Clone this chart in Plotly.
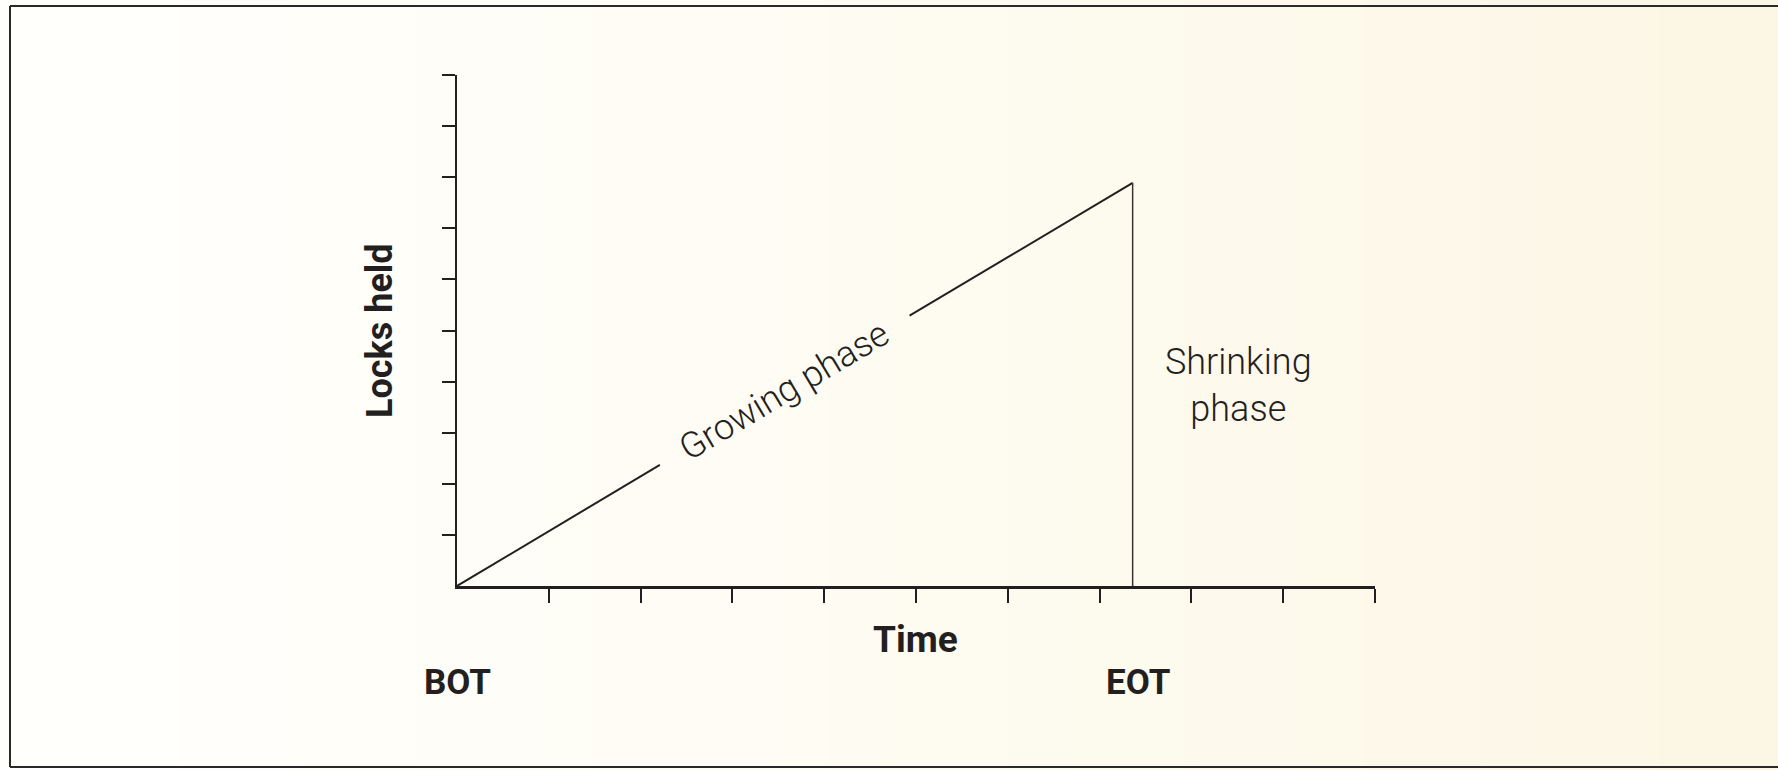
import plotly.graph_objects as go

# --- data ---
growing_x = [0.0, 2.21, None, 4.93, 7.36]
growing_y = [0.0, 2.37, None, 5.29, 7.89]
shrinking_x = [7.36, 7.36]
shrinking_y = [7.89, 0.0]
tick_vals = [1, 2, 3, 4, 5, 6, 7, 8, 9, 10]

W, H = 1778, 770
ML, MR, MT, MB = 457, 1778 - 1375, 75, 770 - 586

ink = "#231f20"
light_font = "Roboto, Liberation Sans, Arial, sans-serif"
bold_font = "Roboto, Liberation Sans, Arial, sans-serif"

fig = go.Figure()
fig.add_trace(go.Scatter(x=growing_x, y=growing_y, mode="lines",
                         line=dict(color=ink, width=2), hoverinfo="skip",
                         connectgaps=False, cliponaxis=False))
fig.add_trace(go.Scatter(x=shrinking_x, y=shrinking_y, mode="lines",
                         line=dict(color="#3a3230", width=1.5), hoverinfo="skip",
                         cliponaxis=False))

pw, ph = W - ML - MR, H - MT - MB
def px(x):
    return (x - ML) / pw
def py(y):
    return (H - MB - y) / ph

shapes = []
n = 30
c0 = (255, 255, 252)
c1 = (252, 246, 228)
for i in range(n):
    t = (i / (n - 1)) ** 1.2
    col = tuple(round(c0[k] + (c1[k] - c0[k]) * t) for k in range(3))
    shapes.append(dict(type="rect", xref="paper", yref="paper", layer="below",
                       x0=px(i * W / n), x1=px((i + 1.05) * W / n),
                       y0=py(H), y1=py(0),
                       line=dict(width=0), fillcolor="rgb(%d,%d,%d)" % col))
frame = dict(color="#2a2a2a", width=2)
shapes.append(dict(type="line", xref="paper", yref="paper", x0=px(10), x1=px(10),
                   y0=py(6), y1=py(767), line=frame))
shapes.append(dict(type="line", xref="paper", yref="paper", x0=px(10), x1=px(1778),
                   y0=py(6), y1=py(6), line=frame))
shapes.append(dict(type="line", xref="paper", yref="paper", x0=px(10), x1=px(1778),
                   y0=py(767), y1=py(767), line=frame))

light = dict(family=light_font, size=36, color=ink, weight=300)
f_time = dict(family=bold_font, size=37, color=ink, weight=700)
f_ends = dict(family=bold_font, size=35, color=ink, weight=700)
f_locks = dict(family=bold_font, size=36, color=ink, weight=700)
annotations = [
    dict(x=3.56, y=3.82, text="Growing phase", textangle=-30.8, showarrow=False,
         font=light, xanchor="center", yanchor="middle"),
    dict(x=8.51, y=3.93, text="Shrinking<br>phase", showarrow=False,
         font=light, align="center", xanchor="center", yanchor="middle"),
    dict(xref="paper", yref="paper", x=px(915), y=py(639), text="Time",
         showarrow=False, font=f_time, xanchor="center", yanchor="middle"),
    dict(xref="paper", yref="paper", x=px(457), y=py(682), text="BOT",
         showarrow=False, font=f_ends, xanchor="center", yanchor="middle"),
    dict(xref="paper", yref="paper", x=px(1138), y=py(682), text="EOT",
         showarrow=False, font=f_ends, xanchor="center", yanchor="middle"),
    dict(xref="paper", yref="paper", x=px(380), y=py(331), text="Locks held",
         textangle=-90, showarrow=False, font=f_locks, xanchor="center", yanchor="middle"),
]

fig.update_layout(
    width=W, height=H, autosize=False,
    margin=dict(l=ML, r=MR, t=MT, b=MB, pad=0),
    paper_bgcolor="rgb(253,251,242)", plot_bgcolor="rgba(0,0,0,0)",
    showlegend=False, shapes=shapes, annotations=annotations,
    xaxis=dict(range=[0, 10], showgrid=False, zeroline=False, showline=True,
               linecolor=ink, linewidth=2.5, ticks="outside", ticklen=14,
               tickwidth=1.5, tickcolor=ink, tickvals=tick_vals,
               showticklabels=False, fixedrange=True),
    yaxis=dict(range=[0, 10], showgrid=False, zeroline=False, showline=True,
               linecolor=ink, linewidth=1.8, ticks="outside", ticklen=13,
               tickwidth=1.8, tickcolor=ink, tickvals=tick_vals,
               showticklabels=False, fixedrange=True),
)

fig.write_html("out.html", config={"displayModeBar": False},
               post_script="document.body.style.margin='0';document.body.style.overflow='hidden';")
